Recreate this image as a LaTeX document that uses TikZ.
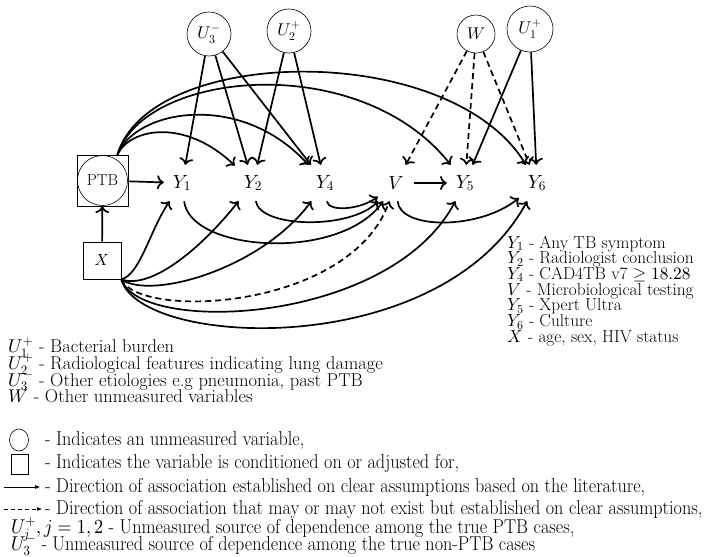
\documentclass[tikz,border=0pt]{standalone}
\usepackage{amsmath}
\usepackage{graphicx}
\usetikzlibrary{arrows.meta,shapes.geometric}
\DeclareFontFamily{OML}{cmm}{\skewchar\font127 }
\DeclareFontShape{OML}{cmm}{m}{it}{<-> cmmi10}{}
\DeclareFontFamily{OMS}{cmsy}{\skewchar\font48 }
\DeclareFontShape{OMS}{cmsy}{m}{n}{<-> cmsy10}{}
\DeclareFontFamily{OT1}{cmr}{\hyphenchar\font45 }
\DeclareFontShape{OT1}{cmr}{m}{n}{<-> cmr10}{}
\newcommand{\tallx}[1]{\scalebox{1}[1.1]{#1}}
\begin{document}
\begin{tikzpicture}[x=1pt,y=-1pt,
  >={To[scale=1.25]},
  lat/.style={circle, draw, line width=0.6pt, minimum size=44pt, inner sep=0pt, font=\fontsize{17}{20}\selectfont},
  obs/.style={inner sep=0pt, minimum width=36pt, minimum height=36pt, font=\fontsize{19}{22}\selectfont},
  box/.style={draw, line width=0.6pt, inner sep=0pt},
  arr/.style={->, line width=1.7pt},
  darr/.style={->, line width=1.7pt, dash pattern=on 6pt off 4pt},
  rleg/.style={anchor=base west, inner sep=0pt, font=\fontsize{17.3}{18}\selectfont},
  lleg/.style={anchor=base west, inner sep=0pt, font=\fontsize{18.5}{19}\selectfont},
  bot/.style={anchor=west, inner sep=0pt, font=\fontsize{18.2}{20}\selectfont},
  larr/.style={-{Latex[length=5pt,width=4pt]}, line width=0.6pt}
]
\useasboundingbox (0,0) rectangle (707,557);

% latent nodes
\node[lat] (u3) at (209,34) {$U_3^-$};
\node[lat] (u2) at (289,31) {$U_2^+$};
\node[lat, minimum size=38pt] (w) at (476,34) {$W$};
\node[lat, minimum size=46pt] (u1) at (530,29) {$U_1^+$};

% PTB and X
\node[box, minimum size=51pt] (ptbb) at (102.5,180.5) {};
\node[circle, draw, line width=0.6pt, minimum size=50pt, inner sep=0pt, font=\fontsize{16}{19}\selectfont] (ptb) at (102.5,180.5) {PTB};
\node[box, minimum width=38pt, minimum height=37pt, font=\fontsize{16}{19}\selectfont] (xb) at (102,260.5) {$X$};

% observed
\node[obs] (y1) at (182,183) {$Y_1$};
\node[obs] (y2) at (253,183) {$Y_2$};
\node[obs] (y4) at (325,183) {$Y_4$};
\node[obs] (v)  at (396,183) {$V$};
\node[obs] (y5) at (465,183) {$Y_5$};
\node[obs] (y6) at (537,183) {$Y_6$};

% straight arrows
\draw[arr] (ptbb) -- (y1);
\draw[arr] (xb) -- (ptbb);
\draw[arr] (u3) -- (y1);
\draw[arr] (u3) -- (y2);
\draw[arr] (u3) -- (y4);
\draw[arr] (u2) -- (y2);
\draw[arr] (u2) -- (y4);
\draw[darr] (w) -- (v);
\draw[darr] (w) -- (y5);
\draw[darr] (w) -- (y6);
\draw[arr] (u1) -- (y5);
\draw[arr] (u1) -- (y6);
\draw[arr] (v) -- (y5);

% PTB curves
\draw[arr] (ptbb.60) .. controls (130,128) and (185,118) .. (y2);
\draw[arr] (ptbb.60) .. controls (135,110) and (240,90) .. (y4);
\draw[arr] (ptbb.60) .. controls (145,70) and (360,50) .. (y5);
\draw[arr] (ptbb.60) .. controls (150,45) and (450,40) .. (y6);

% Y -> V curves
\draw[arr] (y1) .. controls (190,252) and (340,262) .. (v);
\draw[arr] (y2) .. controls (260,228) and (350,230) .. (v);
\draw[arr] (y4) .. controls (328,212) and (360,210) .. (v);
\draw[arr] (v) .. controls (400,230) and (480,230) .. (y6);

% X curves
\draw[arr] (xb.south east) .. controls (140,275) and (150,230) .. (y1);
\draw[arr] (xb.south east) .. controls (150,290) and (200,250) .. (y2);
\draw[arr] (xb.south east) .. controls (150,300) and (260,270) .. (y4);
\draw[darr] (xb.south east) .. controls (140,320) and (350,310) .. (v);
\draw[arr] (xb.south east) .. controls (140,335) and (390,325) .. (y5);
\draw[arr] (xb.south east) .. controls (140,348) and (440,362) .. (y6);

% right legend
\node[rleg] (r1) at (507,248) {$Y_1$ - Any TB symptom};
\node[rleg] (r2) at (507,263.7) {$Y_2$ - Radiologist conclusion};
\node[rleg] (r3) at (507,279.4) {$Y_4$ - CAD4TB v7 $\geq 18.28$};
\node[rleg] (r4) at (507,295.1) {$V$ - Microbiological testing};
\node[rleg] (r5) at (507,310.8) {$Y_5$ - Xpert Ultra};
\node[rleg] (r6) at (507,326.5) {$Y_6$ - Culture};
\node[rleg] (r7) at (507,342.2) {$X$ - age, sex, HIV status};

% left legend
\node[lleg] (l1) at (8,352.5) {$U_1^+$ - Bacterial burden};
\node[lleg] (l2) at (8,369.3) {$U_2^+$ - Radiological features indicating lung damage};
\node[lleg] (l3) at (8,386.1) {$U_3^-$ - Other etiologies e.g pneumonia, past PTB};
\node[lleg] (l4) at (8,402.9) {$W$ - Other unmeasured variables};

% bottom legend
\node[ellipse, draw, line width=0.6pt, minimum width=19pt, minimum height=22pt, inner sep=0pt] (lc) at (19,440) {};
\node[box, minimum width=17pt, minimum height=20pt] (ls) at (20,464) {};
\coordinate (la1) at (4,487);
\coordinate (la2) at (40,487);
\draw[larr] (la1) -- (la2);
\coordinate (ld1) at (4,509);
\coordinate (ld2) at (42,509);
\draw[larr, dash pattern=on 4pt off 3pt] (ld1) -- (ld2);
\node[bot] (t1) at (45,440) {\tallx{- Indicates an unmeasured variable,}};
\node[bot] (t2) at (45,463) {\tallx{- Indicates the variable is conditioned on or adjusted for,}};
\node[bot] (t3) at (45,487) {\tallx{- Direction of association established on clear assumptions based on the literature,}};
\node[bot] (t4) at (45,509) {\tallx{- Direction of association that may or may not exist but established on clear assumptions,}};
\node[bot] (t5) at (11,529) {\tallx{$U_j^+, j=1,2$ - Unmeasured source of dependence among the true PTB cases,}};
\node[bot] (t6) at (11,545) {\tallx{$U_3^-$ - Unmeasured source of dependence among the true non-PTB cases}};
\end{tikzpicture}
\end{document}
